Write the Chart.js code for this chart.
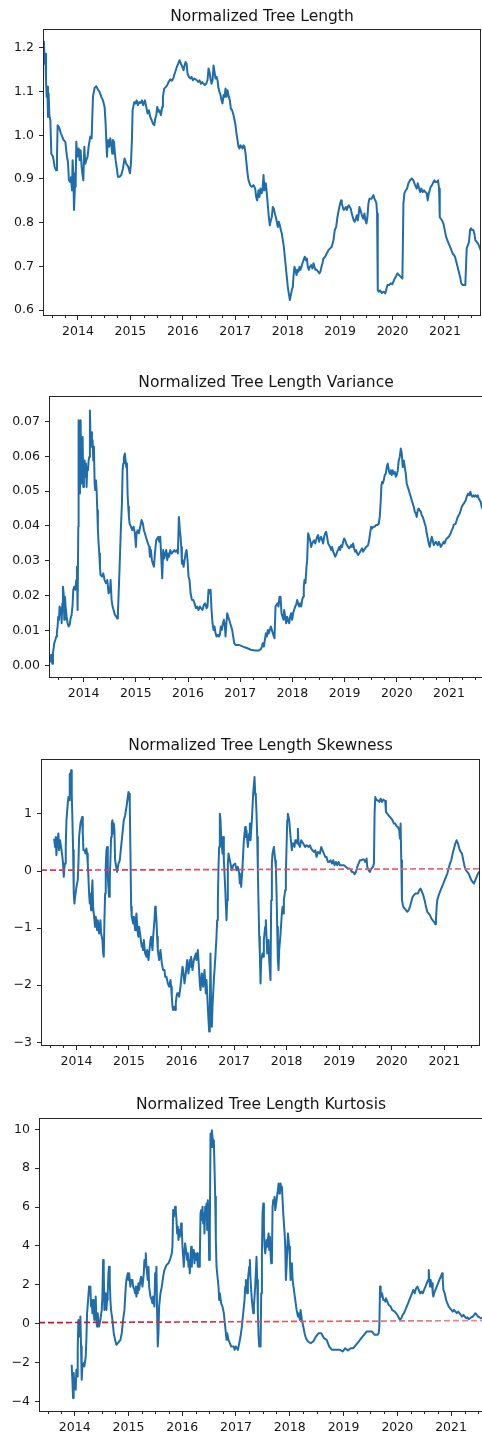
<!DOCTYPE html>
<html>
<head>
<meta charset="utf-8">
<title>Normalized Tree Length statistics</title>
<script src="https://cdn.jsdelivr.net/npm/chart.js@4.4.1/dist/chart.umd.min.js"></script>
<style>
  html, body { margin: 0; padding: 0; background: #ffffff; }
  #page { position: relative; width: 482px; height: 1436px; overflow: hidden; background: #ffffff; }
  #page canvas { position: absolute; left: 0; }
</style>
</head>
<body>
<div id="page">
  <canvas id="chartLength"></canvas>
  <canvas id="chartVariance"></canvas>
  <canvas id="chartSkewness"></canvas>
  <canvas id="chartKurtosis"></canvas>
</div>
<script>
// ---- shared x-axis ticks (decimal years) ----
const yearTicks = [2014, 2015, 2016, 2017, 2018, 2019, 2020, 2021];
const yearLabels = ['2014', '2015', '2016', '2017', '2018', '2019', '2020', '2021'];

// ---- y-axis ticks per panel ----
const lengthTicks = [0.6, 0.7, 0.8, 0.9, 1.0, 1.1, 1.2];
const lengthTickLabels = ['0.6', '0.7', '0.8', '0.9', '1.0', '1.1', '1.2'];
const varianceTicks = [0, 0.01, 0.02, 0.03, 0.04, 0.05, 0.06, 0.07];
const varianceTickLabels = ['0.00', '0.01', '0.02', '0.03', '0.04', '0.05', '0.06', '0.07'];
const skewnessTicks = [-3, -2, -1, 0, 1];
const skewnessTickLabels = ['\u22123', '\u22122', '\u22121', '0', '1'];
const kurtosisTicks = [-4, -2, 0, 2, 4, 6, 8, 10];
const kurtosisTickLabels = ['\u22124', '\u22122', '0', '2', '4', '6', '8', '10'];

// ---- reference lines [start, end] ----
const skewnessRef = [0.015, 0.04];
const kurtosisRef = [0.05, 0.16];

// ---- series: [decimal year, value] ----
const treeLength = [[2013.333,1.214],[2013.352,1.210],[2013.365,1.164],[2013.377,1.187],[2013.390,1.126],[2013.403,1.088],[2013.416,1.111],[2013.428,1.042],[2013.441,1.096],[2013.454,1.046],[2013.473,1.035],[2013.492,0.958],[2013.524,0.951],[2013.555,0.928],[2013.581,0.920],[2013.600,0.951],[2013.612,1.023],[2013.638,1.019],[2013.676,1.004],[2013.727,0.989],[2013.759,0.985],[2013.790,0.951],[2013.809,0.939],[2013.828,0.897],[2013.854,0.893],[2013.867,0.904],[2013.886,0.874],[2013.898,0.943],[2013.911,0.913],[2013.924,0.829],[2013.943,0.882],[2013.956,0.882],[2013.968,0.985],[2013.987,0.951],[2014.013,0.970],[2014.032,0.943],[2014.051,0.966],[2014.070,0.928],[2014.083,0.913],[2014.102,0.897],[2014.121,0.974],[2014.140,0.935],[2014.159,0.943],[2014.184,0.951],[2014.203,0.974],[2014.235,0.997],[2014.260,0.993],[2014.286,1.088],[2014.318,1.109],[2014.349,1.112],[2014.381,1.105],[2014.413,1.099],[2014.445,1.088],[2014.476,1.080],[2014.508,1.065],[2014.527,1.027],[2014.540,0.989],[2014.553,0.951],[2014.565,0.981],[2014.578,0.989],[2014.597,0.974],[2014.616,0.993],[2014.635,0.981],[2014.654,0.958],[2014.667,0.989],[2014.686,0.985],[2014.705,0.958],[2014.718,0.943],[2014.737,0.928],[2014.762,0.905],[2014.794,0.905],[2014.826,0.909],[2014.858,0.924],[2014.889,0.947],[2014.921,0.935],[2014.959,0.928],[2014.991,0.913],[2015.010,0.935],[2015.029,0.989],[2015.042,1.057],[2015.074,1.076],[2015.099,1.073],[2015.118,1.080],[2015.144,1.069],[2015.169,1.076],[2015.194,1.074],[2015.220,1.080],[2015.245,1.069],[2015.277,1.080],[2015.302,1.065],[2015.328,1.050],[2015.353,1.057],[2015.379,1.042],[2015.404,1.035],[2015.429,1.027],[2015.455,1.023],[2015.474,1.038],[2015.493,1.046],[2015.512,1.065],[2015.537,1.054],[2015.556,1.057],[2015.582,1.046],[2015.607,1.065],[2015.620,1.088],[2015.645,1.107],[2015.677,1.111],[2015.703,1.115],[2015.728,1.122],[2015.760,1.128],[2015.792,1.125],[2015.817,1.130],[2015.836,1.138],[2015.855,1.145],[2015.887,1.157],[2015.912,1.164],[2015.938,1.172],[2015.963,1.164],[2015.989,1.157],[2016.014,1.149],[2016.033,1.160],[2016.052,1.168],[2016.071,1.164],[2016.090,1.141],[2016.116,1.134],[2016.141,1.130],[2016.166,1.134],[2016.192,1.126],[2016.217,1.130],[2016.243,1.128],[2016.268,1.126],[2016.293,1.122],[2016.319,1.126],[2016.344,1.118],[2016.370,1.122],[2016.395,1.118],[2016.420,1.115],[2016.446,1.118],[2016.471,1.126],[2016.490,1.153],[2016.509,1.145],[2016.528,1.130],[2016.548,1.118],[2016.567,1.126],[2016.586,1.160],[2016.605,1.145],[2016.624,1.130],[2016.643,1.134],[2016.662,1.126],[2016.681,1.107],[2016.700,1.099],[2016.719,1.092],[2016.738,1.080],[2016.757,1.073],[2016.776,1.092],[2016.795,1.088],[2016.814,1.107],[2016.833,1.088],[2016.852,1.103],[2016.878,1.088],[2016.897,1.080],[2016.916,1.061],[2016.941,1.057],[2016.967,1.046],[2016.986,1.035],[2017.005,1.023],[2017.024,1.004],[2017.043,0.989],[2017.062,0.974],[2017.081,0.970],[2017.100,0.977],[2017.119,0.974],[2017.138,0.970],[2017.157,0.977],[2017.176,0.974],[2017.196,0.958],[2017.215,0.935],[2017.234,0.913],[2017.253,0.897],[2017.284,0.886],[2017.316,0.882],[2017.348,0.886],[2017.380,0.878],[2017.399,0.859],[2017.418,0.851],[2017.443,0.874],[2017.462,0.859],[2017.481,0.878],[2017.501,0.867],[2017.520,0.874],[2017.539,0.909],[2017.558,0.874],[2017.583,0.890],[2017.602,0.867],[2017.621,0.840],[2017.640,0.813],[2017.659,0.794],[2017.678,0.805],[2017.697,0.813],[2017.716,0.836],[2017.736,0.832],[2017.755,0.821],[2017.774,0.813],[2017.793,0.802],[2017.812,0.790],[2017.831,0.802],[2017.850,0.794],[2017.869,0.783],[2017.888,0.775],[2017.907,0.760],[2017.926,0.745],[2017.945,0.722],[2017.964,0.699],[2017.983,0.676],[2018.002,0.653],[2018.021,0.638],[2018.041,0.623],[2018.060,0.634],[2018.079,0.646],[2018.098,0.653],[2018.110,0.676],[2018.129,0.699],[2018.149,0.692],[2018.168,0.680],[2018.187,0.692],[2018.206,0.688],[2018.225,0.699],[2018.244,0.692],[2018.263,0.699],[2018.282,0.707],[2018.301,0.714],[2018.327,0.722],[2018.346,0.714],[2018.365,0.718],[2018.384,0.699],[2018.403,0.692],[2018.422,0.699],[2018.447,0.703],[2018.473,0.695],[2018.492,0.707],[2018.511,0.699],[2018.530,0.692],[2018.555,0.692],[2018.581,0.688],[2018.606,0.684],[2018.625,0.688],[2018.644,0.699],[2018.663,0.707],[2018.682,0.718],[2018.714,0.722],[2018.746,0.730],[2018.778,0.737],[2018.809,0.741],[2018.841,0.745],[2018.873,0.760],[2018.898,0.783],[2018.924,0.790],[2018.949,0.813],[2018.974,0.829],[2019.000,0.844],[2019.019,0.851],[2019.032,0.844],[2019.051,0.836],[2019.070,0.829],[2019.089,0.832],[2019.108,0.836],[2019.127,0.829],[2019.146,0.836],[2019.165,0.840],[2019.184,0.836],[2019.203,0.832],[2019.222,0.821],[2019.241,0.813],[2019.260,0.805],[2019.279,0.802],[2019.298,0.809],[2019.318,0.817],[2019.337,0.805],[2019.356,0.821],[2019.368,0.836],[2019.387,0.829],[2019.406,0.821],[2019.425,0.813],[2019.444,0.809],[2019.464,0.821],[2019.483,0.805],[2019.502,0.798],[2019.521,0.813],[2019.540,0.844],[2019.559,0.855],[2019.597,0.855],[2019.616,0.859],[2019.635,0.863],[2019.654,0.855],[2019.673,0.851],[2019.692,0.844],[2019.705,0.821],[2019.718,0.645],[2019.737,0.642],[2019.762,0.645],[2019.794,0.639],[2019.826,0.642],[2019.858,0.638],[2019.877,0.645],[2019.902,0.657],[2019.934,0.657],[2019.966,0.661],[2019.997,0.659],[2020.029,0.669],[2020.061,0.676],[2020.093,0.684],[2020.124,0.680],[2020.156,0.676],[2020.188,0.672],[2020.207,0.844],[2020.226,0.867],[2020.251,0.874],[2020.277,0.878],[2020.302,0.890],[2020.334,0.897],[2020.366,0.901],[2020.397,0.897],[2020.429,0.886],[2020.461,0.878],[2020.480,0.890],[2020.499,0.882],[2020.525,0.870],[2020.550,0.878],[2020.575,0.870],[2020.601,0.874],[2020.626,0.870],[2020.652,0.867],[2020.671,0.851],[2020.690,0.867],[2020.709,0.874],[2020.728,0.882],[2020.753,0.886],[2020.779,0.893],[2020.798,0.897],[2020.817,0.893],[2020.842,0.893],[2020.868,0.897],[2020.887,0.878],[2020.900,0.813],[2020.919,0.809],[2020.944,0.805],[2020.969,0.798],[2020.995,0.783],[2021.020,0.768],[2021.045,0.760],[2021.071,0.752],[2021.096,0.745],[2021.122,0.737],[2021.147,0.729],[2021.172,0.726],[2021.191,0.722],[2021.223,0.707],[2021.255,0.692],[2021.287,0.676],[2021.312,0.661],[2021.338,0.657],[2021.388,0.657],[2021.414,0.741],[2021.439,0.749],[2021.458,0.756],[2021.478,0.783],[2021.497,0.787],[2021.516,0.783],[2021.541,0.783],[2021.560,0.775],[2021.579,0.760],[2021.605,0.756],[2021.630,0.752],[2021.656,0.745],[2021.681,0.737],[2021.707,0.729]];

const treeLengthVariance = [[2013.343,0.0031],[2013.362,0.0011],[2013.381,0.0031],[2013.400,0.0005],[2013.413,0.0035],[2013.438,0.0064],[2013.458,0.0073],[2013.477,0.0083],[2013.489,0.0097],[2013.502,0.0112],[2013.515,0.0140],[2013.528,0.0131],[2013.540,0.0169],[2013.553,0.0150],[2013.566,0.0164],[2013.579,0.0121],[2013.592,0.0178],[2013.604,0.0226],[2013.617,0.0207],[2013.630,0.0131],[2013.643,0.0197],[2013.655,0.0169],[2013.675,0.0140],[2013.694,0.0121],[2013.713,0.0112],[2013.732,0.0116],[2013.751,0.0135],[2013.770,0.0145],[2013.789,0.0174],[2013.802,0.0217],[2013.821,0.0226],[2013.840,0.0217],[2013.860,0.0245],[2013.872,0.0283],[2013.885,0.0159],[2013.898,0.0398],[2013.904,0.0703],[2013.917,0.0493],[2013.930,0.0665],[2013.943,0.0703],[2013.955,0.0522],[2013.968,0.0646],[2013.981,0.0655],[2013.994,0.0512],[2014.006,0.0588],[2014.019,0.0588],[2014.032,0.0541],[2014.045,0.0579],[2014.057,0.0512],[2014.070,0.0569],[2014.083,0.0560],[2014.096,0.0588],[2014.108,0.0598],[2014.121,0.0731],[2014.134,0.0636],[2014.147,0.0669],[2014.160,0.0627],[2014.172,0.0646],[2014.185,0.0588],[2014.198,0.0627],[2014.211,0.0522],[2014.223,0.0503],[2014.236,0.0531],[2014.249,0.0503],[2014.262,0.0445],[2014.274,0.0388],[2014.287,0.0350],[2014.300,0.0321],[2014.313,0.0283],[2014.325,0.0259],[2014.351,0.0255],[2014.377,0.0264],[2014.402,0.0245],[2014.428,0.0236],[2014.453,0.0245],[2014.479,0.0207],[2014.504,0.0217],[2014.517,0.0245],[2014.536,0.0188],[2014.555,0.0169],[2014.574,0.0159],[2014.600,0.0145],[2014.625,0.0140],[2014.645,0.0135],[2014.657,0.0150],[2014.676,0.0226],[2014.696,0.0312],[2014.715,0.0398],[2014.734,0.0464],[2014.747,0.0560],[2014.759,0.0579],[2014.772,0.0598],[2014.791,0.0608],[2014.804,0.0588],[2014.817,0.0569],[2014.830,0.0579],[2014.842,0.0493],[2014.855,0.0455],[2014.868,0.0426],[2014.881,0.0407],[2014.906,0.0398],[2014.932,0.0388],[2014.957,0.0398],[2014.983,0.0379],[2015.002,0.0340],[2015.015,0.0379],[2015.034,0.0388],[2015.059,0.0379],[2015.085,0.0398],[2015.110,0.0417],[2015.136,0.0407],[2015.155,0.0388],[2015.174,0.0379],[2015.193,0.0369],[2015.213,0.0359],[2015.232,0.0350],[2015.257,0.0340],[2015.270,0.0312],[2015.289,0.0331],[2015.308,0.0302],[2015.327,0.0292],[2015.347,0.0283],[2015.366,0.0321],[2015.378,0.0340],[2015.391,0.0359],[2015.410,0.0364],[2015.430,0.0369],[2015.449,0.0355],[2015.468,0.0369],[2015.487,0.0312],[2015.506,0.0250],[2015.525,0.0331],[2015.544,0.0307],[2015.564,0.0321],[2015.583,0.0331],[2015.602,0.0302],[2015.621,0.0321],[2015.640,0.0312],[2015.659,0.0331],[2015.685,0.0321],[2015.710,0.0326],[2015.736,0.0331],[2015.761,0.0326],[2015.787,0.0331],[2015.806,0.0321],[2015.825,0.0426],[2015.844,0.0388],[2015.857,0.0369],[2015.870,0.0340],[2015.883,0.0292],[2015.895,0.0302],[2015.915,0.0283],[2015.934,0.0302],[2015.953,0.0321],[2015.972,0.0331],[2015.991,0.0302],[2016.010,0.0255],[2016.029,0.0245],[2016.049,0.0207],[2016.074,0.0188],[2016.100,0.0188],[2016.125,0.0178],[2016.151,0.0164],[2016.176,0.0169],[2016.202,0.0159],[2016.227,0.0169],[2016.253,0.0164],[2016.278,0.0159],[2016.304,0.0174],[2016.329,0.0178],[2016.355,0.0164],[2016.374,0.0169],[2016.393,0.0217],[2016.412,0.0207],[2016.432,0.0217],[2016.451,0.0159],[2016.470,0.0121],[2016.489,0.0102],[2016.508,0.0112],[2016.527,0.0092],[2016.546,0.0083],[2016.572,0.0088],[2016.591,0.0083],[2016.610,0.0088],[2016.629,0.0112],[2016.649,0.0102],[2016.668,0.0121],[2016.687,0.0131],[2016.706,0.0112],[2016.719,0.0083],[2016.731,0.0112],[2016.751,0.0150],[2016.770,0.0140],[2016.789,0.0131],[2016.808,0.0121],[2016.827,0.0112],[2016.846,0.0102],[2016.866,0.0083],[2016.885,0.0064],[2016.910,0.0059],[2016.974,0.0059],[2017.051,0.0054],[2017.127,0.0050],[2017.204,0.0045],[2017.280,0.0043],[2017.357,0.0043],[2017.395,0.0047],[2017.414,0.0054],[2017.433,0.0064],[2017.453,0.0054],[2017.472,0.0073],[2017.491,0.0092],[2017.510,0.0083],[2017.529,0.0102],[2017.548,0.0092],[2017.568,0.0102],[2017.587,0.0112],[2017.606,0.0102],[2017.625,0.0092],[2017.644,0.0083],[2017.657,0.0078],[2017.676,0.0169],[2017.695,0.0174],[2017.714,0.0178],[2017.733,0.0169],[2017.753,0.0197],[2017.772,0.0197],[2017.791,0.0150],[2017.810,0.0140],[2017.829,0.0131],[2017.842,0.0159],[2017.861,0.0140],[2017.880,0.0121],[2017.899,0.0140],[2017.918,0.0131],[2017.938,0.0121],[2017.957,0.0140],[2017.976,0.0150],[2017.995,0.0131],[2018.014,0.0150],[2018.033,0.0159],[2018.053,0.0169],[2018.072,0.0174],[2018.091,0.0188],[2018.110,0.0178],[2018.129,0.0169],[2018.148,0.0178],[2018.167,0.0169],[2018.187,0.0188],[2018.206,0.0197],[2018.218,0.0226],[2018.231,0.0245],[2018.250,0.0236],[2018.270,0.0283],[2018.282,0.0302],[2018.301,0.0379],[2018.321,0.0369],[2018.340,0.0359],[2018.359,0.0340],[2018.378,0.0350],[2018.397,0.0355],[2018.416,0.0359],[2018.435,0.0350],[2018.455,0.0359],[2018.474,0.0369],[2018.493,0.0374],[2018.512,0.0355],[2018.531,0.0364],[2018.550,0.0369],[2018.570,0.0359],[2018.589,0.0350],[2018.608,0.0369],[2018.627,0.0379],[2018.646,0.0383],[2018.665,0.0369],[2018.684,0.0350],[2018.704,0.0345],[2018.723,0.0340],[2018.742,0.0331],[2018.761,0.0340],[2018.780,0.0326],[2018.799,0.0321],[2018.818,0.0312],[2018.838,0.0317],[2018.857,0.0326],[2018.876,0.0331],[2018.895,0.0340],[2018.914,0.0331],[2018.933,0.0345],[2018.952,0.0340],[2018.972,0.0355],[2018.991,0.0364],[2019.010,0.0359],[2019.029,0.0350],[2019.048,0.0345],[2019.067,0.0340],[2019.086,0.0336],[2019.106,0.0340],[2019.125,0.0345],[2019.144,0.0340],[2019.163,0.0350],[2019.182,0.0336],[2019.201,0.0326],[2019.220,0.0331],[2019.240,0.0321],[2019.259,0.0317],[2019.278,0.0321],[2019.297,0.0326],[2019.316,0.0331],[2019.335,0.0336],[2019.354,0.0326],[2019.374,0.0331],[2019.393,0.0336],[2019.412,0.0340],[2019.450,0.0345],[2019.469,0.0359],[2019.488,0.0379],[2019.508,0.0398],[2019.527,0.0393],[2019.552,0.0398],[2019.578,0.0398],[2019.603,0.0403],[2019.629,0.0403],[2019.654,0.0407],[2019.673,0.0426],[2019.693,0.0474],[2019.705,0.0517],[2019.718,0.0526],[2019.731,0.0522],[2019.750,0.0531],[2019.769,0.0546],[2019.788,0.0550],[2019.808,0.0569],[2019.827,0.0579],[2019.846,0.0560],[2019.865,0.0550],[2019.884,0.0560],[2019.903,0.0546],[2019.922,0.0560],[2019.942,0.0550],[2019.961,0.0555],[2019.980,0.0541],[2019.999,0.0546],[2020.018,0.0560],[2020.037,0.0588],[2020.056,0.0598],[2020.076,0.0622],[2020.095,0.0608],[2020.114,0.0569],[2020.133,0.0588],[2020.152,0.0569],[2020.171,0.0550],[2020.190,0.0522],[2020.210,0.0512],[2020.229,0.0503],[2020.248,0.0493],[2020.267,0.0484],[2020.286,0.0474],[2020.305,0.0464],[2020.325,0.0455],[2020.344,0.0441],[2020.363,0.0436],[2020.382,0.0426],[2020.401,0.0445],[2020.420,0.0450],[2020.439,0.0445],[2020.459,0.0441],[2020.478,0.0431],[2020.497,0.0426],[2020.516,0.0417],[2020.535,0.0407],[2020.554,0.0398],[2020.573,0.0379],[2020.593,0.0364],[2020.612,0.0350],[2020.631,0.0340],[2020.650,0.0355],[2020.669,0.0369],[2020.688,0.0359],[2020.707,0.0345],[2020.727,0.0350],[2020.746,0.0355],[2020.765,0.0350],[2020.784,0.0345],[2020.803,0.0355],[2020.822,0.0350],[2020.841,0.0340],[2020.861,0.0345],[2020.880,0.0350],[2020.899,0.0355],[2020.918,0.0350],[2020.937,0.0359],[2020.956,0.0364],[2020.995,0.0369],[2021.033,0.0379],[2021.052,0.0388],[2021.071,0.0393],[2021.090,0.0403],[2021.129,0.0407],[2021.148,0.0417],[2021.167,0.0426],[2021.186,0.0431],[2021.205,0.0436],[2021.224,0.0445],[2021.244,0.0455],[2021.263,0.0460],[2021.282,0.0464],[2021.320,0.0474],[2021.339,0.0484],[2021.365,0.0493],[2021.390,0.0488],[2021.409,0.0498],[2021.428,0.0488],[2021.447,0.0484],[2021.467,0.0488],[2021.486,0.0484],[2021.505,0.0488],[2021.531,0.0484],[2021.550,0.0488],[2021.569,0.0479],[2021.588,0.0474],[2021.607,0.0469],[2021.633,0.0450]];

const treeLengthSkewness = [[2013.575,0.569],[2013.594,0.423],[2013.607,0.598],[2013.619,0.277],[2013.638,0.539],[2013.657,0.656],[2013.670,0.364],[2013.689,0.539],[2013.708,0.423],[2013.733,0.248],[2013.746,0.131],[2013.759,-0.102],[2013.772,0.073],[2013.784,0.131],[2013.797,0.423],[2013.810,0.889],[2013.835,1.181],[2013.848,1.297],[2013.860,1.239],[2013.873,1.706],[2013.886,1.472],[2013.898,1.764],[2013.911,1.356],[2013.924,0.889],[2013.937,0.364],[2013.949,-0.394],[2013.962,-0.569],[2013.975,-0.452],[2014.000,-0.277],[2014.025,-0.160],[2014.038,0.131],[2014.051,0.598],[2014.076,0.831],[2014.108,0.948],[2014.121,0.656],[2014.133,0.364],[2014.159,0.364],[2014.171,0.306],[2014.190,0.394],[2014.203,0.306],[2014.216,0.131],[2014.228,-0.102],[2014.241,-0.394],[2014.254,-0.569],[2014.267,-0.510],[2014.279,-0.685],[2014.292,-0.394],[2014.305,-0.160],[2014.317,-0.627],[2014.343,-0.860],[2014.355,-0.977],[2014.368,-0.802],[2014.393,-1.035],[2014.406,-0.860],[2014.432,-1.093],[2014.457,-0.860],[2014.470,-1.093],[2014.495,-1.210],[2014.508,-1.443],[2014.520,-1.502],[2014.533,-0.860],[2014.546,-0.394],[2014.558,0.073],[2014.571,0.364],[2014.584,0.423],[2014.597,-0.102],[2014.609,-0.277],[2014.622,-0.452],[2014.635,-0.102],[2014.647,0.189],[2014.660,0.598],[2014.673,0.831],[2014.685,0.889],[2014.698,0.656],[2014.711,0.831],[2014.723,0.714],[2014.736,0.189],[2014.762,0.044],[2014.774,-0.015],[2014.800,0.131],[2014.825,0.189],[2014.850,0.423],[2014.876,0.656],[2014.901,0.889],[2014.927,0.977],[2014.952,1.122],[2014.977,1.297],[2014.990,1.385],[2015.003,1.356],[2015.015,1.181],[2015.028,0.306],[2015.041,-0.627],[2015.053,-0.802],[2015.079,-0.918],[2015.092,-0.802],[2015.117,-1.035],[2015.130,-0.860],[2015.142,-0.743],[2015.168,-1.093],[2015.180,-1.152],[2015.193,-0.977],[2015.218,-1.152],[2015.244,-1.327],[2015.257,-1.268],[2015.269,-1.385],[2015.282,-1.210],[2015.307,-1.443],[2015.333,-1.502],[2015.345,-1.385],[2015.371,-1.560],[2015.396,-1.327],[2015.409,-1.210],[2015.421,-1.152],[2015.447,-1.385],[2015.460,-1.152],[2015.485,-0.860],[2015.498,-0.627],[2015.510,-0.685],[2015.523,-0.860],[2015.536,-1.152],[2015.548,-1.385],[2015.574,-1.560],[2015.599,-1.385],[2015.625,-1.618],[2015.650,-1.735],[2015.676,-1.735],[2015.688,-1.851],[2015.713,-1.851],[2015.739,-1.968],[2015.764,-2.026],[2015.790,-1.910],[2015.802,-2.026],[2015.815,-2.201],[2015.828,-2.376],[2015.840,-2.434],[2015.866,-2.376],[2015.878,-2.434],[2015.891,-2.318],[2015.904,-2.201],[2015.917,-2.143],[2015.942,-2.143],[2015.955,-2.201],[2015.980,-2.026],[2016.005,-1.793],[2016.018,-1.676],[2016.031,-1.735],[2016.056,-1.968],[2016.081,-1.793],[2016.107,-1.560],[2016.132,-1.793],[2016.158,-1.560],[2016.170,-1.676],[2016.183,-1.502],[2016.208,-1.735],[2016.234,-1.560],[2016.272,-1.443],[2016.285,-1.560],[2016.310,-1.385],[2016.323,-1.560],[2016.348,-1.968],[2016.361,-2.085],[2016.386,-1.793],[2016.411,-2.026],[2016.437,-1.735],[2016.462,-2.143],[2016.475,-1.910],[2016.500,-2.376],[2016.513,-2.610],[2016.526,-2.813],[2016.538,-2.493],[2016.551,-1.443],[2016.564,-2.610],[2016.577,-2.726],[2016.589,-2.376],[2016.615,-1.910],[2016.640,-1.560],[2016.665,-1.152],[2016.678,-0.860],[2016.691,-0.569],[2016.703,0.073],[2016.716,0.423],[2016.729,1.006],[2016.742,0.889],[2016.754,0.598],[2016.780,0.306],[2016.792,0.598],[2016.805,0.189],[2016.830,-0.277],[2016.856,-0.860],[2016.868,-0.510],[2016.881,0.131],[2016.894,0.306],[2016.919,0.189],[2016.957,0.014],[2016.983,0.102],[2017.021,0.131],[2017.046,0.014],[2017.071,0.073],[2017.097,-0.044],[2017.110,-0.219],[2017.122,-0.102],[2017.135,-0.277],[2017.160,0.073],[2017.186,0.539],[2017.211,0.773],[2017.224,0.598],[2017.236,0.714],[2017.262,0.423],[2017.287,0.656],[2017.300,0.831],[2017.313,0.539],[2017.338,0.889],[2017.363,1.356],[2017.389,1.647],[2017.401,1.356],[2017.414,1.297],[2017.427,1.006],[2017.440,0.598],[2017.452,0.014],[2017.465,-0.569],[2017.478,-1.152],[2017.490,-1.443],[2017.503,-1.968],[2017.516,-1.560],[2017.541,-1.443],[2017.554,-1.502],[2017.566,-1.210],[2017.592,-0.977],[2017.604,-0.860],[2017.617,-1.152],[2017.630,-1.443],[2017.655,-1.210],[2017.668,-1.560],[2017.693,-1.910],[2017.706,-0.510],[2017.719,0.131],[2017.731,0.306],[2017.757,0.423],[2017.782,0.189],[2017.795,0.073],[2017.808,-0.394],[2017.820,-0.977],[2017.833,-1.560],[2017.846,-1.735],[2017.858,-1.385],[2017.884,-1.093],[2017.909,-0.743],[2017.922,-0.627],[2017.935,-0.743],[2017.947,-0.510],[2017.973,-0.335],[2017.985,-0.044],[2017.998,0.423],[2018.011,0.889],[2018.023,1.006],[2018.049,0.889],[2018.074,0.598],[2018.100,0.364],[2018.112,0.481],[2018.138,0.481],[2018.150,0.423],[2018.163,0.539],[2018.188,0.539],[2018.201,0.481],[2018.214,0.743],[2018.226,0.481],[2018.252,0.423],[2018.277,0.539],[2018.315,0.481],[2018.353,0.423],[2018.379,0.452],[2018.417,0.423],[2018.442,0.452],[2018.468,0.394],[2018.493,0.364],[2018.518,0.335],[2018.544,0.364],[2018.569,0.248],[2018.595,0.335],[2018.633,0.306],[2018.658,0.423],[2018.683,0.364],[2018.709,0.306],[2018.734,0.248],[2018.759,0.248],[2018.785,0.160],[2018.810,0.160],[2018.836,0.189],[2018.861,0.131],[2018.886,0.189],[2018.912,0.102],[2018.937,0.160],[2018.963,0.102],[2018.988,0.160],[2019.013,0.102],[2019.039,0.102],[2019.064,0.102],[2019.090,0.102],[2019.115,0.085],[2019.140,0.061],[2019.166,0.044],[2019.191,0.044],[2019.216,0.026],[2019.242,-0.015],[2019.267,-0.015],[2019.293,-0.055],[2019.318,-0.015],[2019.343,0.073],[2019.369,0.131],[2019.394,0.189],[2019.419,0.189],[2019.445,0.201],[2019.470,0.201],[2019.496,0.160],[2019.521,0.219],[2019.534,0.073],[2019.559,0.014],[2019.584,-0.015],[2019.610,0.044],[2019.635,0.061],[2019.661,0.131],[2019.673,1.006],[2019.686,1.297],[2019.711,1.239],[2019.737,1.239],[2019.762,1.210],[2019.788,1.268],[2019.813,1.210],[2019.838,1.251],[2019.876,1.227],[2019.889,1.035],[2019.914,1.006],[2019.940,0.977],[2019.965,0.948],[2019.991,0.918],[2020.016,0.889],[2020.041,0.831],[2020.067,0.831],[2020.092,0.784],[2020.117,0.773],[2020.143,0.714],[2020.156,0.569],[2020.168,0.831],[2020.181,0.189],[2020.194,-0.510],[2020.219,-0.627],[2020.244,-0.656],[2020.270,-0.685],[2020.295,-0.714],[2020.321,-0.685],[2020.346,-0.627],[2020.371,-0.539],[2020.397,-0.452],[2020.447,-0.394],[2020.498,-0.394],[2020.524,-0.335],[2020.549,-0.306],[2020.574,-0.364],[2020.600,-0.423],[2020.625,-0.510],[2020.651,-0.627],[2020.676,-0.714],[2020.701,-0.743],[2020.727,-0.773],[2020.752,-0.831],[2020.777,-0.860],[2020.803,-0.889],[2020.828,-0.930],[2020.841,-0.860],[2020.854,-0.627],[2020.866,-0.510],[2020.904,-0.394],[2020.930,-0.335],[2020.955,-0.277],[2020.981,-0.219],[2021.006,-0.160],[2021.031,-0.102],[2021.057,-0.044],[2021.082,0.044],[2021.107,0.131],[2021.133,0.189],[2021.158,0.306],[2021.184,0.394],[2021.209,0.481],[2021.234,0.539],[2021.260,0.481],[2021.285,0.394],[2021.311,0.335],[2021.336,0.306],[2021.361,0.189],[2021.387,0.073],[2021.412,0.014],[2021.437,-0.015],[2021.463,-0.044],[2021.488,-0.102],[2021.514,-0.160],[2021.539,-0.190],[2021.564,-0.219],[2021.590,-0.160],[2021.615,-0.102],[2021.640,-0.044],[2021.666,-0.015],[2021.717,0.014]];

const treeLengthKurtosis = [[2013.944,-2.117],[2013.957,-2.888],[2013.969,-3.829],[2013.981,-2.545],[2013.994,-3.230],[2014.006,-2.888],[2014.019,-3.401],[2014.031,-2.374],[2014.043,-2.717],[2014.056,-1.347],[2014.068,0.193],[2014.081,-0.320],[2014.093,-0.663],[2014.106,0.364],[2014.118,-1.176],[2014.130,-2.888],[2014.143,-2.203],[2014.168,-2.032],[2014.180,-2.203],[2014.205,-1.690],[2014.217,-0.834],[2014.230,0.536],[2014.254,1.391],[2014.267,1.905],[2014.279,1.562],[2014.292,1.905],[2014.304,0.878],[2014.317,1.220],[2014.329,0.536],[2014.341,1.220],[2014.354,0.536],[2014.366,0.193],[2014.379,0.707],[2014.391,1.391],[2014.403,0.193],[2014.416,-0.149],[2014.428,0.536],[2014.453,-0.149],[2014.478,0.193],[2014.503,0.707],[2014.515,1.391],[2014.528,3.274],[2014.540,2.760],[2014.552,0.707],[2014.565,1.220],[2014.577,1.562],[2014.590,0.707],[2014.602,1.220],[2014.614,1.562],[2014.627,2.589],[2014.639,2.932],[2014.652,2.247],[2014.664,1.220],[2014.676,0.707],[2014.701,0.193],[2014.726,-0.491],[2014.751,-0.834],[2014.776,-1.091],[2014.825,-0.919],[2014.850,-0.834],[2014.875,-0.491],[2014.900,0.193],[2014.925,0.707],[2014.950,1.905],[2014.962,2.247],[2014.987,2.589],[2014.999,2.247],[2015.012,2.589],[2015.036,1.905],[2015.049,2.247],[2015.074,2.247],[2015.086,1.905],[2015.111,1.733],[2015.123,1.562],[2015.136,1.905],[2015.148,1.391],[2015.161,1.905],[2015.173,1.562],[2015.185,2.076],[2015.198,1.733],[2015.223,2.247],[2015.235,2.418],[2015.260,1.905],[2015.285,2.589],[2015.297,3.274],[2015.309,2.932],[2015.322,3.616],[2015.334,2.932],[2015.359,2.247],[2015.372,2.932],[2015.384,1.905],[2015.409,1.391],[2015.434,1.220],[2015.446,1.049],[2015.458,1.391],[2015.483,0.878],[2015.496,2.589],[2015.508,2.076],[2015.520,2.932],[2015.533,0.536],[2015.545,-1.176],[2015.558,-0.491],[2015.570,0.878],[2015.595,1.562],[2015.620,1.905],[2015.645,2.418],[2015.669,2.760],[2015.707,3.017],[2015.744,3.103],[2015.781,3.359],[2015.806,3.616],[2015.818,3.958],[2015.831,5.841],[2015.843,5.499],[2015.868,6.012],[2015.880,5.841],[2015.893,5.328],[2015.905,4.643],[2015.918,4.985],[2015.930,4.301],[2015.943,4.814],[2015.955,4.472],[2015.980,5.157],[2015.992,4.814],[2016.005,3.958],[2016.029,2.932],[2016.042,3.616],[2016.054,4.130],[2016.079,3.616],[2016.091,3.274],[2016.104,3.616],[2016.116,2.932],[2016.129,3.274],[2016.141,2.589],[2016.153,3.445],[2016.166,3.958],[2016.178,2.932],[2016.191,3.787],[2016.216,3.787],[2016.228,3.103],[2016.240,3.616],[2016.265,3.274],[2016.278,3.616],[2016.290,2.932],[2016.315,2.932],[2016.327,3.274],[2016.340,5.670],[2016.352,5.841],[2016.364,5.328],[2016.377,6.012],[2016.389,5.157],[2016.402,5.670],[2016.414,4.643],[2016.427,6.012],[2016.439,5.499],[2016.451,6.183],[2016.464,4.814],[2016.476,6.355],[2016.489,5.499],[2016.501,3.274],[2016.513,4.814],[2016.526,9.778],[2016.538,9.093],[2016.551,9.949],[2016.563,9.607],[2016.576,9.093],[2016.588,9.435],[2016.600,8.066],[2016.613,6.526],[2016.625,4.301],[2016.638,2.932],[2016.662,2.247],[2016.675,1.905],[2016.687,1.220],[2016.700,1.562],[2016.724,1.049],[2016.749,0.878],[2016.774,0.536],[2016.799,-0.149],[2016.824,-0.834],[2016.836,-0.491],[2016.861,-0.834],[2016.886,-1.005],[2016.911,-1.176],[2016.935,-1.176],[2016.960,-1.176],[2016.973,-1.347],[2016.997,-1.176],[2017.035,-1.347],[2017.060,-1.005],[2017.084,-0.663],[2017.109,-0.149],[2017.134,0.536],[2017.159,1.220],[2017.171,1.905],[2017.184,2.247],[2017.196,1.905],[2017.208,1.562],[2017.221,2.247],[2017.246,2.932],[2017.258,3.274],[2017.271,2.247],[2017.295,1.220],[2017.320,0.536],[2017.333,0.878],[2017.357,1.905],[2017.382,3.445],[2017.395,2.247],[2017.407,0.536],[2017.420,-0.663],[2017.432,-1.176],[2017.457,-1.176],[2017.469,1.562],[2017.482,3.616],[2017.494,5.670],[2017.507,6.183],[2017.519,4.985],[2017.531,3.958],[2017.544,3.616],[2017.569,4.301],[2017.581,3.958],[2017.606,4.643],[2017.618,3.787],[2017.631,4.472],[2017.643,3.616],[2017.655,3.103],[2017.668,3.274],[2017.680,6.012],[2017.693,6.355],[2017.705,6.183],[2017.717,6.526],[2017.730,5.841],[2017.755,6.355],[2017.779,6.868],[2017.792,7.211],[2017.804,6.697],[2017.817,7.039],[2017.829,7.211],[2017.841,6.868],[2017.854,7.039],[2017.866,6.355],[2017.879,5.670],[2017.904,4.643],[2017.916,3.958],[2017.928,2.247],[2017.941,2.932],[2017.966,4.643],[2017.990,3.958],[2018.003,3.274],[2018.015,2.247],[2018.028,2.589],[2018.040,3.103],[2018.053,2.247],[2018.077,1.733],[2018.102,1.220],[2018.127,0.707],[2018.152,0.364],[2018.164,0.536],[2018.189,0.193],[2018.201,0.707],[2018.226,0.193],[2018.251,-0.149],[2018.276,-0.491],[2018.301,-0.748],[2018.338,-0.919],[2018.388,-1.005],[2018.437,-0.919],[2018.487,-0.663],[2018.537,-0.491],[2018.586,-0.491],[2018.636,-0.748],[2018.686,-0.834],[2018.735,-1.176],[2018.785,-1.347],[2018.835,-1.347],[2018.884,-1.347],[2018.934,-1.347],[2018.983,-1.433],[2019.033,-1.262],[2019.083,-1.381],[2019.132,-1.262],[2019.182,-1.262],[2019.232,-1.091],[2019.281,-0.919],[2019.331,-0.748],[2019.381,-0.577],[2019.430,-0.406],[2019.480,-0.406],[2019.530,-0.406],[2019.579,-0.577],[2019.629,-0.577],[2019.654,-0.491],[2019.666,-0.149],[2019.679,1.905],[2019.691,1.562],[2019.703,1.391],[2019.716,1.562],[2019.741,1.220],[2019.765,1.220],[2019.778,1.135],[2019.790,1.306],[2019.815,1.135],[2019.840,0.964],[2019.877,0.878],[2019.902,0.707],[2019.952,0.621],[2020.001,0.450],[2020.051,0.193],[2020.076,0.279],[2020.100,0.450],[2020.125,0.536],[2020.150,0.707],[2020.175,0.878],[2020.200,1.049],[2020.225,1.220],[2020.249,1.391],[2020.274,1.562],[2020.299,1.733],[2020.324,1.562],[2020.349,1.819],[2020.374,1.905],[2020.398,1.733],[2020.423,1.562],[2020.448,1.648],[2020.473,1.562],[2020.498,1.733],[2020.523,1.905],[2020.547,2.076],[2020.572,2.247],[2020.585,2.760],[2020.597,2.247],[2020.609,1.905],[2020.622,2.247],[2020.634,1.905],[2020.647,2.076],[2020.659,1.562],[2020.671,1.391],[2020.684,1.562],[2020.709,1.733],[2020.733,1.905],[2020.758,2.076],[2020.783,2.247],[2020.808,2.418],[2020.833,2.589],[2020.845,2.247],[2020.858,1.733],[2020.882,1.562],[2020.907,1.220],[2020.932,1.049],[2020.957,0.878],[2020.982,0.792],[2021.007,0.707],[2021.031,0.621],[2021.056,0.707],[2021.081,0.621],[2021.106,0.536],[2021.131,0.621],[2021.156,0.536],[2021.180,0.450],[2021.205,0.364],[2021.230,0.450],[2021.255,0.364],[2021.280,0.279],[2021.305,0.330],[2021.329,0.227],[2021.354,0.279],[2021.379,0.330],[2021.404,0.364],[2021.429,0.450],[2021.453,0.536],[2021.478,0.450],[2021.503,0.364],[2021.528,0.330],[2021.553,0.279],[2021.578,0.279]];

// ---- drawing ----
const FONT = '"DejaVu Sans", "Liberation Sans", sans-serif';
const INK = '#161616';
const LINE_BLUE = '#1f6dab';

// Axes frame plus quarter-year minor ticks along the date axis
const framePlugin = {
  id: 'frame',
  afterDraw(chart) {
    const { ctx, chartArea: a, scales: { x } } = chart;
    const l = Math.round(a.left) + 0.5;
    const r = Math.round(a.right) - 0.5;
    const t = Math.round(a.top) + 0.5;
    const b = Math.round(a.bottom) - 0.5;
    ctx.save();
    ctx.strokeStyle = '#262626';
    ctx.lineWidth = 1;
    ctx.strokeRect(l, t, r - l, b - t);
    ctx.beginPath();
    const q0 = Math.ceil(x.min * 4);
    const q1 = Math.floor(x.max * 4);
    for (let q = q0; q <= q1; q++) {
      if (q % 4 === 0) continue;
      const px = Math.round(x.getPixelForValue(q / 4)) + 0.5;
      ctx.moveTo(px, b);
      ctx.lineTo(px, b + 2.5);
    }
    ctx.stroke();
    ctx.restore();
  }
};

function refGradient(c0, c1) {
  return (context) => {
    const { chart } = context;
    const a = chart.chartArea;
    if (!a) return c0;
    const g = chart.ctx.createLinearGradient(a.left, 0, a.right, 0);
    g.addColorStop(0, c0);
    g.addColorStop(1, c1);
    return g;
  };
}

function buildPanel(p) {
  const canvas = document.getElementById(p.id);
  canvas.width = p.canvasW;
  canvas.height = p.canvasH;
  canvas.style.top = p.top + 'px';
  canvas.style.width = p.canvasW + 'px';
  canvas.style.height = p.canvasH + 'px';

  const datasets = [{
    data: p.series.map(d => ({ x: d[0], y: d[1] })),
    borderColor: LINE_BLUE,
    borderWidth: 2,
    borderJoinStyle: 'round',
    pointRadius: 0,
    tension: 0,
    fill: false,
    order: 2
  }];
  if (p.ref) {
    datasets.push({
      data: [{ x: p.xMin, y: p.ref[0] }, { x: p.xMax, y: p.ref[1] }],
      borderColor: refGradient(p.refColors[0], p.refColors[1]),
      borderWidth: 1.7,
      borderDash: [6, 3],
      pointRadius: 0,
      fill: false,
      order: 1
    });
  }

  const tickFont = { family: FONT, size: 12.5 };

  new Chart(canvas, {
    type: 'line',
    data: { datasets },
    options: {
      responsive: false,
      animation: false,
      devicePixelRatio: 1,
      events: [],
      layout: { padding: { left: 0, top: 0, bottom: 0, right: p.canvasW - p.right } },
      plugins: {
        legend: { display: false },
        tooltip: { enabled: false },
        title: {
          display: true,
          text: p.title,
          fullSize: false,
          color: INK,
          font: { family: FONT, size: 15.5, weight: 'normal', lineHeight: 1.2 },
          padding: { top: p.titleTop, bottom: p.titleBottom }
        }
      },
      scales: {
        x: {
          type: 'linear',
          min: p.xMin,
          max: p.xMax,
          afterBuildTicks: s => { s.ticks = yearTicks.map(v => ({ value: v })); },
          afterFit: s => { s.height = 30; },
          ticks: {
            autoSkip: false, maxRotation: 0, minRotation: 0, padding: 4,
            color: INK, font: tickFont,
            callback: (v, i) => yearLabels[i]
          },
          grid: { display: true, drawOnChartArea: false, drawTicks: true, tickLength: 4, color: '#262626', lineWidth: 1 },
          border: { display: false }
        },
        y: {
          type: 'linear',
          min: p.yMin,
          max: p.yMax,
          afterBuildTicks: s => { s.ticks = p.yTicks.map(v => ({ value: v })); },
          afterFit: s => { s.width = p.left; },
          ticks: {
            autoSkip: false, padding: 5,
            color: INK, font: tickFont,
            callback: (v, i) => p.yLabels[i]
          },
          grid: { display: true, drawOnChartArea: false, drawTicks: true, tickLength: 4, color: '#262626', lineWidth: 1 },
          border: { display: false }
        }
      }
    },
    plugins: [framePlugin]
  });
}

const panels = [
  { id: 'chartLength', title: 'Normalized Tree Length', series: treeLength,
    top: 0, canvasW: 490, canvasH: 346, left: 43, right: 481, titleTop: 7.5, titleBottom: 3.2,
    xMin: 2013.333, xMax: 2021.687, yMin: 0.5863, yMax: 1.2427,
    yTicks: lengthTicks, yLabels: lengthTickLabels },
  { id: 'chartVariance', title: 'Normalized Tree Length Variance', series: treeLengthVariance,
    top: 360, canvasW: 490, canvasH: 348, left: 49, right: 483, titleTop: 14.1, titleBottom: 3.6,
    xMin: 2013.337, xMax: 2021.651, yMin: -0.0036, yMax: 0.0772,
    yTicks: varianceTicks, yLabels: varianceTickLabels },
  { id: 'chartSkewness', title: 'Normalized Tree Length Skewness', series: treeLengthSkewness,
    top: 720, canvasW: 490, canvasH: 356, left: 41, right: 480, titleTop: 16.5, titleBottom: 3.5,
    xMin: 2013.326, xMax: 2021.679, yMin: -3.065, yMax: 1.97,
    yTicks: skewnessTicks, yLabels: skewnessTickLabels,
    ref: skewnessRef, refColors: ['#d8384e', '#e8707f'] },
  { id: 'chartKurtosis', title: 'Normalized Tree Length Kurtosis', series: treeLengthKurtosis,
    top: 1080, canvasW: 490, canvasH: 362, left: 39, right: 483, titleTop: 15.8, titleBottom: 3.6,
    xMin: 2013.336, xMax: 2021.594, yMin: -4.545, yMax: 10.58,
    yTicks: kurtosisTicks, yLabels: kurtosisTickLabels,
    ref: kurtosisRef, refColors: ['#c8101e', '#f28a90'] }
];

panels.forEach(buildPanel);
</script>
</body>
</html>
